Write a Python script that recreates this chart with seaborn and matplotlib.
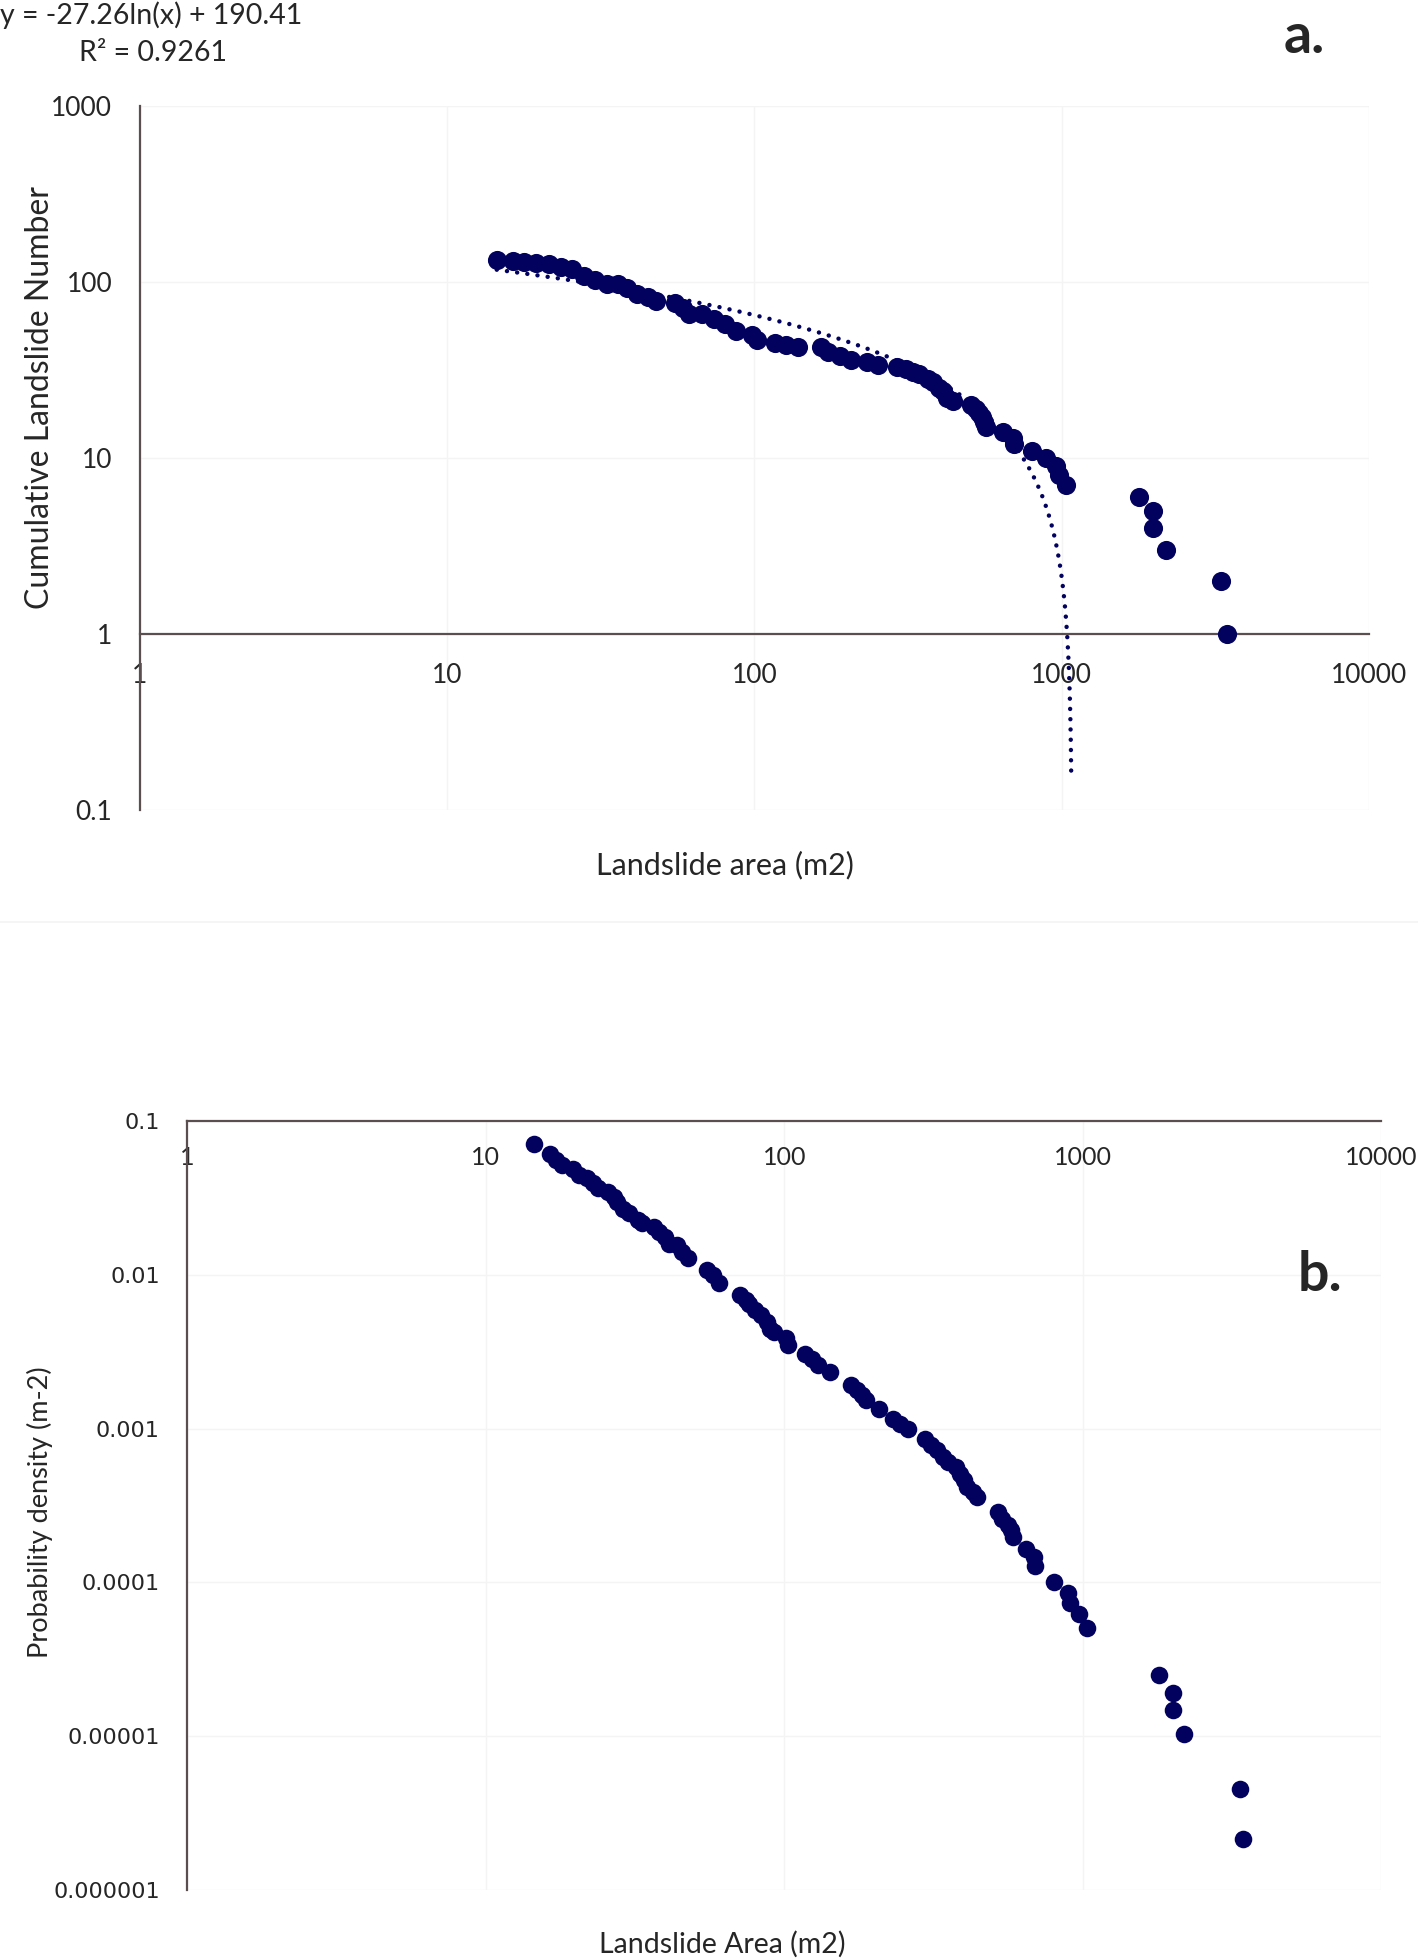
import numpy as np
import pandas as pd
import seaborn as sns
import matplotlib.pyplot as plt
from matplotlib.lines import Line2D
from matplotlib.ticker import NullLocator

# panel a: cumulative landslide number vs area
AREA_A = [14.5, 16.4, 17.8, 19.4, 21.5, 23.4, 25.5, 27.8, 30.3, 33.0, 35.9, 38.6, 41.5, 45.2, 47.9,
          55.3, 58.5, 61.1, 67.5, 73.6, 80.2, 87.4, 98.0, 102.3, 116.5, 126.9, 138.2, 164.2, 173.9,
          189.5, 206.5, 231.6, 252.5, 291.3, 311, 327, 344, 366, 380, 399, 410, 423, 442, 507, 525,
          539, 552, 560, 569, 642, 692, 700, 798, 888, 960, 981, 1032, 1786, 1984, 1984, 2182, 3309, 3444]
COUNT_A = [133, 132, 130, 128, 126, 122, 118, 108, 103, 98, 98, 93, 86, 82, 78,
           76, 71, 66, 66, 62, 58, 53, 50, 47, 45, 44, 43, 43, 40,
           38, 36, 35, 34, 33, 32, 31, 30, 28, 27, 25, 24, 22, 21, 20, 19,
           18, 17, 16, 15, 14, 13, 12, 11, 10, 9, 8, 7, 6, 5, 4, 3, 2, 1]

# log trendline shown on panel a
TREND_SLOPE = -27.26
TREND_INTERCEPT = 190.41
TREND_R2 = 0.9261

# panel b: probability density vs area
AREA_B = [14.55, 16.47, 17.21, 17.99, 19.66, 20.55, 21.81, 22.79, 23.82, 25.64,
          26.81, 27.61, 28.86, 30.17, 32.47, 33.44, 36.53, 38.19, 39.92, 41.11,
          43.62, 45.60, 47.66, 55.24, 57.73, 60.35, 71.0, 74.2, 76.4, 79.9,
          83.5, 87.3, 89.9, 92.6, 101.2, 102.7, 117.2, 124.3, 130.0, 142.0,
          167.1, 174.7, 182.5, 188.0, 208.4, 231.1, 245.2, 260.1, 297.0, 310.5,
          324.5, 339.2, 354.5, 376.2, 387.4, 399.0, 411.0, 429.6, 442.4, 520.3,
          535.9, 560.2, 577.0, 585.6, 646.0, 688.8, 694.2, 799.9, 890.9, 907.1,
          974.8, 1031.6, 1797, 2002, 2002, 2190, 3365, 3435]
DENSITY_B = [0.0705, 0.0610, 0.0558, 0.0517, 0.0485, 0.0445, 0.0424, 0.0393, 0.0370, 0.0347,
             0.0322, 0.0299, 0.0270, 0.0251, 0.0229, 0.0216, 0.0206, 0.0191, 0.0177, 0.0160,
             0.0156, 0.0141, 0.0128, 0.01074, 0.00996, 0.00880, 0.00738, 0.00685, 0.00645, 0.00590,
             0.00547, 0.00495, 0.00448, 0.00426, 0.00386, 0.00349, 0.00308, 0.00286, 0.00259, 0.00234,
             0.00192, 0.00178, 0.00165, 0.00153, 0.00135, 0.00116, 0.00108, 0.00100, 0.000863, 0.000781,
             0.000725, 0.000656, 0.000609, 0.000565, 0.000511, 0.000462, 0.000418, 0.000388, 0.000360, 0.000288,
             0.000260, 0.000236, 0.000219, 0.000198, 0.000166, 0.000147, 0.000128, 0.000101, 0.0000855, 0.0000740,
             0.0000628, 0.0000502, 0.0000249, 0.0000190, 0.0000148, 0.0000104, 0.00000452, 0.00000216]

X_TICKS = [1, 10, 100, 1000, 10000]
X_LABELS = ['1', '10', '100', '1000', '10000']
Y_TICKS_A = [0.1, 1, 10, 100, 1000]
Y_LABELS_A = ['0.1', '1', '10', '100', '1000']
Y_TICKS_B = [0.000001, 0.00001, 0.0001, 0.001, 0.01, 0.1]
Y_LABELS_B = ['0.000001', '0.00001', '0.0001', '0.001', '0.01', '0.1']

NAVY = '#02025e'
AXIS = '#5a4e4e'
GRID = '#f4f4f4'

sns.set_style('white')
plt.rcParams['font.family'] = ['Lato', 'DejaVu Sans']

fig = plt.figure(figsize=(14.18, 19.6), dpi=100)
ax1 = fig.add_axes([0.0987, 0.5867, 0.8667, 0.3592])
ax2 = fig.add_axes([0.1322, 0.0357, 0.8417, 0.3923])

# ---- panel a
ax1.set_xscale('log')
ax1.set_yscale('log')
df_a = pd.DataFrame({'area': AREA_A, 'count': COUNT_A})
sns.scatterplot(data=df_a, x='area', y='count', ax=ax1, s=190, color=NAVY,
                linewidth=0, zorder=3)

xs = np.geomspace(min(AREA_A), max(AREA_A), 6000)
ys = TREND_SLOPE * np.log(xs) + TREND_INTERCEPT
keep = ys >= 0.15
sns.lineplot(x=xs[keep], y=ys[keep], ax=ax1, color=NAVY, lw=3.2, sort=False,
             linestyle=(0, (0.01, 2.3)), dash_capstyle='round', zorder=2)

ax1.set_xlim(1, 10000)
ax1.set_ylim(0.1, 1000)
ax1.set_xticks(X_TICKS, labels=X_LABELS)
ax1.set_yticks(Y_TICKS_A, labels=Y_LABELS_A)
ax1.xaxis.set_minor_locator(NullLocator())
ax1.yaxis.set_minor_locator(NullLocator())
ax1.spines['bottom'].set_position(('data', 1))
for s in ['top', 'right']:
    ax1.spines[s].set_visible(False)
for s in ['bottom', 'left']:
    ax1.spines[s].set_color(AXIS)
    ax1.spines[s].set_linewidth(1.6)
ax1.tick_params(axis='x', length=0, labelsize=19, pad=21)
ax1.tick_params(axis='y', length=0, labelsize=19, pad=20)
ax1.grid(True, color=GRID, lw=1)
ax1.set_axisbelow(True)
ax1.set_xlabel('')
ax1.set_ylabel('')

# ---- panel b
ax2.set_xscale('log')
ax2.set_yscale('log')
df_b = pd.DataFrame({'area': AREA_B, 'density': DENSITY_B})
sns.scatterplot(data=df_b, x='area', y='density', ax=ax2, s=160, color=NAVY,
                linewidth=0, zorder=3)
ax2.set_xlim(1, 10000)
ax2.set_ylim(0.000001, 0.1)
ax2.set_xticks(X_TICKS, labels=X_LABELS)
ax2.set_yticks(Y_TICKS_B, labels=Y_LABELS_B, fontfamily='DejaVu Sans', fontsize=16)
ax2.xaxis.set_minor_locator(NullLocator())
ax2.yaxis.set_minor_locator(NullLocator())
ax2.spines['bottom'].set_position(('data', 0.1))
for s in ['top', 'right']:
    ax2.spines[s].set_visible(False)
for s in ['bottom', 'left']:
    ax2.spines[s].set_color(AXIS)
    ax2.spines[s].set_linewidth(1.6)
ax2.tick_params(axis='x', length=0, labelsize=18, pad=18)
ax2.tick_params(axis='y', length=0, pad=20)
ax2.grid(True, color=GRID, lw=1)
ax2.set_axisbelow(True)
ax2.set_xlabel('')
ax2.set_ylabel('')

# ---- text
H = 1960
W = 1418
fig.text(0, 1 - 15 / H, f'y = {TREND_SLOPE}ln(x) + {TREND_INTERCEPT}', ha='left', va='center', fontsize=20.5)
fig.text(153 / W, 1 - 53 / H, f'R² = {TREND_R2}', ha='center', va='center', fontsize=20.5)
fig.text(1304 / W, 1 - 37 / H, 'a.', ha='center', va='center', fontsize=40, fontweight='bold')
fig.text(1320 / W, 1 - 1275 / H, 'b.', ha='center', va='center', fontsize=40, fontweight='bold')
fig.text(40 / W, 1 - 397 / H, 'Cumulative Landslide Number', rotation=90, ha='center', va='center', fontsize=23)
fig.text(725 / W, 1 - 865 / H, 'Landslide area (m2)', ha='center', va='center', fontsize=22)
fig.text(40 / W, 1 - 1512 / H, 'Probability density (m-2)', rotation=90, ha='center', va='center', fontsize=19.5)
fig.text(722 / W, 1 - 1944 / H, 'Landslide Area (m2)', ha='center', va='center', fontsize=20.5)

# faint chart-area border between the panels
fig.add_artist(Line2D([0, 1], [1 - 922 / H, 1 - 922 / H], color=GRID, lw=1.2))

fig.savefig('out.png', dpi=100)
